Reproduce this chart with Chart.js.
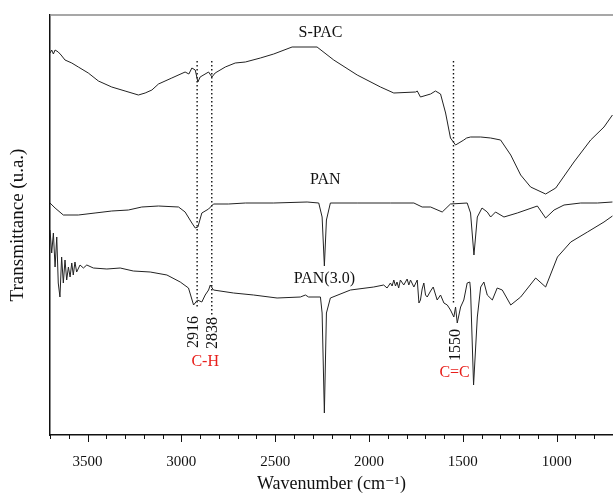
<!DOCTYPE html>
<html>
<head>
<meta charset="utf-8">
<title>FTIR S-PAC / PAN / PAN(3.0)</title>
<script src="https://cdn.jsdelivr.net/npm/chart.js@4"></script>
<style>
    html, body { margin: 0; padding: 0; background: #fff; }
    #wrap { position: relative; width: 613px; height: 495px; }
</style>
</head>
<body>
<div id="wrap"><canvas id="ftir"></canvas></div>
<script>
// 波数 (cm-1) 与透过率 (任意单位)
const spacWn = [3700, 3691, 3682, 3673, 3656, 3641, 3620, 3584, 3549, 3496, 3442, 3371, 3300, 3229, 3193, 3157, 3122, 3051, 2980, 2960, 2944, 2926, 2912, 2900, 2855, 2837, 2820, 2766, 2713, 2659, 2579, 2508, 2410, 2277, 2188, 2063, 1939, 1868, 1752, 1743, 1726, 1672, 1646, 1619, 1592, 1566, 1539, 1495, 1480, 1459, 1405, 1352, 1299, 1245, 1192, 1139, 1059, 1005, 908, 819, 748, 703];
const spacT = [382, 385, 381, 385, 383, 380, 375, 372, 368, 362, 354, 348, 344, 340, 342, 345, 351, 357, 363, 361, 367, 365, 353, 358, 363, 358, 362, 368, 372, 373, 377, 381, 388, 388, 375, 360, 348, 342, 343, 344, 338, 341, 344, 341, 322, 297, 290, 295, 297, 298, 298, 297, 295, 280, 260, 248, 241, 247, 273, 295, 308, 320];

const panWn = [3700, 3673, 3629, 3549, 3460, 3371, 3282, 3211, 3122, 3015, 2980, 2944, 2926, 2912, 2891, 2855, 2829, 2749, 2659, 2508, 2330, 2268, 2250, 2238, 2227, 2206, 2063, 1886, 1761, 1717, 1672, 1610, 1566, 1477, 1459, 1441, 1423, 1398, 1370, 1352, 1326, 1281, 1210, 1103, 1059, 1014, 961, 872, 783, 703];
const panT = [232, 227, 220, 220, 222, 224, 225, 228, 229, 228, 223, 212, 207, 208, 222, 226, 231, 231, 232, 232, 233, 232, 218, 169, 215, 232, 232, 232, 232, 228, 228, 223, 231, 232, 222, 180, 218, 227, 223, 218, 223, 218, 222, 229, 217, 225, 230, 232, 232, 233];

const pan3Wn = [3700, 3691, 3682, 3673, 3664, 3656, 3647, 3638, 3629, 3620, 3611, 3602, 3593, 3584, 3576, 3567, 3558, 3540, 3522, 3504, 3469, 3397, 3326, 3256, 3166, 3077, 3006, 2962, 2935, 2914, 2891, 2873, 2855, 2846, 2829, 2722, 2615, 2490, 2366, 2339, 2322, 2259, 2250, 2238, 2227, 2206, 2099, 1975, 1922, 1904, 1886, 1877, 1868, 1859, 1851, 1842, 1833, 1815, 1797, 1788, 1779, 1761, 1743, 1734, 1726, 1717, 1708, 1699, 1690, 1672, 1658, 1637, 1619, 1601, 1583, 1566, 1548, 1539, 1530, 1512, 1495, 1477, 1463, 1459, 1443, 1423, 1405, 1388, 1370, 1343, 1317, 1290, 1245, 1192, 1112, 1059, 996, 925, 836, 748, 703];
const pan3T = [205, 182, 202, 168, 198, 152, 138, 178, 152, 175, 155, 168, 158, 172, 160, 173, 163, 170, 167, 170, 167, 166, 167, 164, 163, 160, 153, 147, 130, 135, 133, 140, 145, 150, 145, 142, 140, 137, 138, 140, 138, 138, 122, 22, 122, 137, 145, 148, 150, 147, 152, 149, 155, 149, 153, 147, 155, 150, 156, 150, 155, 148, 155, 132, 135, 146, 152, 140, 138, 144, 148, 135, 140, 132, 130, 125, 118, 128, 112, 128, 135, 152, 153, 145, 50, 118, 148, 153, 140, 135, 147, 145, 130, 138, 157, 148, 178, 193, 203, 213, 219];

// 虚线标记峰位
const markWn = [2916, 2838, 1550];
const markTop = [374, 374, 374];
const markBottom = [127, 120, 130];

const xTicks = [3500, 3000, 2500, 2000, 1500, 1000];

const ink = '#222';
const serif = '"Liberation Serif", "DejaVu Serif", serif';

function toPoints(xs, ys) {
    return xs.map((x, i) => ({ x: x, y: ys[i] }));
}

const traceStyle = {
    borderColor: ink,
    borderWidth: 1,
    pointRadius: 0,
    tension: 0,
    fill: false
};

const datasets = [
    Object.assign({ label: 'S-PAC', data: toPoints(spacWn, spacT) }, traceStyle),
    Object.assign({ label: 'PAN', data: toPoints(panWn, panT) }, traceStyle),
    Object.assign({ label: 'PAN(3.0)', data: toPoints(pan3Wn, pan3T) }, traceStyle)
];

markWn.forEach((w, i) => {
    datasets.push({
        label: 'mark ' + w,
        data: [{ x: w, y: markTop[i] }, { x: w, y: markBottom[i] }],
        borderColor: '#111',
        borderWidth: 1.4,
        borderDash: [1.4, 2.6],
        pointRadius: 0
    });
});

// 文字标注：[文本, 波数, 纵坐标, 颜色, 是否竖排]
const notes = [
    ['S-PAC', 2259, 402, '#111', false],
    ['PAN', 2233, 255, '#111', false],
    ['PAN(3.0)', 2238, 156, '#111', false],
    ['2916', 2932, 103, '#111', true],
    ['2838', 2830, 102, '#111', true],
    ['C-H', 2873, 73, '#e8201c', false],
    ['1550', 1539, 90, '#111', true],
    ['C=C', 1544, 62, '#e8201c', false]
];

const decorPlugin = {
    id: 'decor',
    afterDraw(chart) {
        const ctx = chart.ctx;
        const xs = chart.scales.x;
        const ys = chart.scales.y;
        const area = chart.chartArea;
        ctx.save();

        // 上边框
        ctx.strokeStyle = '#8a8a8a';
        ctx.lineWidth = 1.5;
        ctx.beginPath();
        ctx.moveTo(area.left, area.top);
        ctx.lineTo(area.right, area.top);
        ctx.stroke();

        // 刻度线
        ctx.strokeStyle = '#111';
        ctx.lineWidth = 1;
        for (let v = 700; v <= 3700; v += 100) {
            const px = Math.round(xs.getPixelForValue(v)) + 0.5;
            const len = v % 500 === 0 ? 7 : 4;
            ctx.beginPath();
            ctx.moveTo(px, area.bottom);
            ctx.lineTo(px, area.bottom + len);
            ctx.stroke();
        }

        // 标注文字
        ctx.font = '16px ' + serif;
        ctx.textAlign = 'center';
        ctx.textBaseline = 'middle';
        notes.forEach(n => {
            const px = xs.getPixelForValue(n[1]);
            const py = ys.getPixelForValue(n[2]);
            ctx.fillStyle = n[3];
            if (n[4]) {
                ctx.save();
                ctx.translate(px, py);
                ctx.rotate(-Math.PI / 2);
                ctx.fillText(n[0], 0, 0);
                ctx.restore();
            } else {
                ctx.fillText(n[0], px, py);
            }
        });
        ctx.restore();
    }
};

new Chart(document.getElementById('ftir'), {
    type: 'line',
    data: { datasets: datasets },
    options: {
        responsive: true,
        maintainAspectRatio: false,
        animation: false,
        layout: { padding: { top: 15, right: 0, bottom: 0, left: 0 } },
        plugins: {
            legend: { display: false },
            tooltip: { enabled: false }
        },
        scales: {
            x: {
                type: 'linear',
                reverse: true,
                min: 700,
                max: 3700,
                afterFit: s => { s.height = 60; },
                grid: { display: false, drawTicks: false },
                border: { display: true, color: '#111', width: 1.5 },
                afterBuildTicks: s => { s.ticks = xTicks.map(v => ({ value: v })); },
                ticks: {
                    padding: 18,
                    maxRotation: 0,
                    color: '#111',
                    font: { family: serif, size: 15 },
                    callback: v => String(v)
                },
                title: {
                    display: true,
                    text: 'Wavenumber (cm⁻¹)',
                    color: '#111',
                    padding: { top: 0, bottom: 0 },
                    font: { family: serif, size: 18 }
                }
            },
            y: {
                min: 0,
                max: 420,
                afterFit: s => { s.width = 50; },
                grid: { display: false, drawTicks: false },
                border: { display: true, color: '#111', width: 1.5 },
                ticks: { display: false },
                title: {
                    display: true,
                    text: 'Transmittance (u.a.)',
                    color: '#111',
                    padding: { top: 7, bottom: 0 },
                    font: { family: serif, size: 19 }
                }
            }
        }
    },
    plugins: [decorPlugin]
});
</script>
</body>
</html>
